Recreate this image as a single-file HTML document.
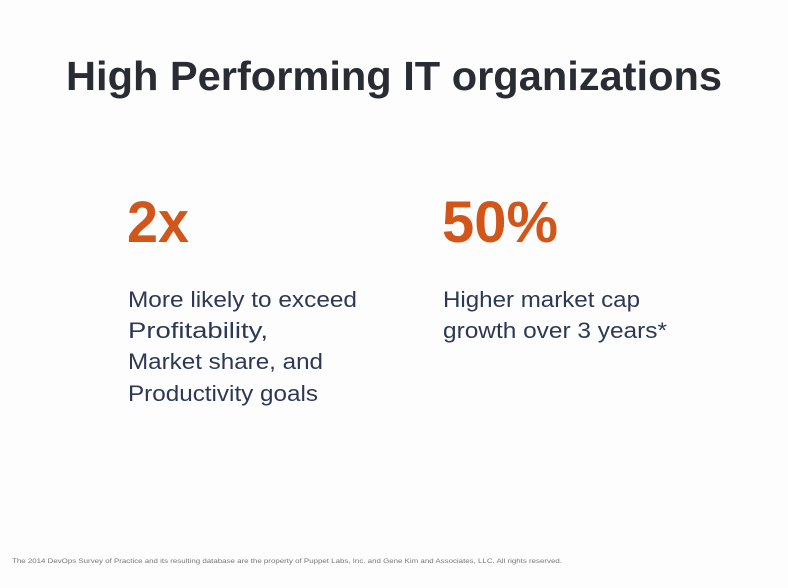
<!DOCTYPE html>
<html><head><meta charset="utf-8"><style>
html,body{margin:0;padding:0;background:#fff;}
svg{display:block}
</style></head><body>
<svg width="788" height="588" viewBox="0 0 788 588" xmlns="http://www.w3.org/2000/svg">
<rect width="788" height="588" fill="#fdfdfd"/>
<g font-family="Liberation Sans, sans-serif">
<text x="66" y="90" font-size="41" font-weight="bold" fill="#2a2c33" textLength="656" lengthAdjust="spacingAndGlyphs">High Performing IT organizations</text>
<text x="127" y="242" font-size="58" font-weight="bold" fill="#d2561a" textLength="62" lengthAdjust="spacingAndGlyphs">2x</text>
<text x="442" y="242" font-size="58" font-weight="bold" fill="#d2561a" textLength="116" lengthAdjust="spacingAndGlyphs">50%</text>
<g font-size="22" fill="#2e3856">
<text x="128" y="307" textLength="229" lengthAdjust="spacingAndGlyphs">More likely to exceed</text>
<text x="128" y="338" textLength="140" lengthAdjust="spacingAndGlyphs">Profitability,</text>
<text x="128" y="369" textLength="195" lengthAdjust="spacingAndGlyphs">Market share, and</text>
<text x="128" y="401" textLength="190" lengthAdjust="spacingAndGlyphs">Productivity goals</text>
<text x="443" y="307" textLength="197" lengthAdjust="spacingAndGlyphs">Higher market cap</text>
<text x="443" y="338" textLength="224" lengthAdjust="spacingAndGlyphs">growth over 3 years*</text>
</g>
<text x="12" y="563" font-size="6.5" fill="#777" textLength="550" lengthAdjust="spacingAndGlyphs">The 2014 DevOps Survey of Practice and its resulting database are the property of Puppet Labs, Inc. and Gene Kim and Associates, LLC. All rights reserved.</text>
</g>
</svg>
</body></html>
